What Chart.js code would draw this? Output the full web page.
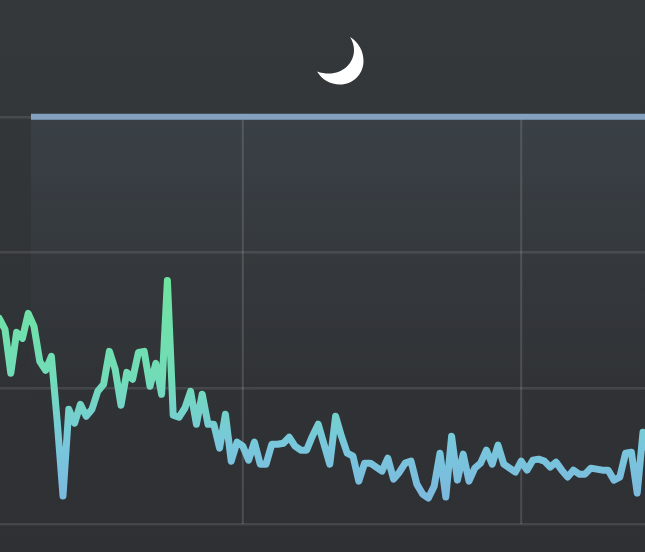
<!DOCTYPE html>
<html><head><meta charset="utf-8">
<style>html,body{margin:0;padding:0;background:#2e3033}#w{position:relative;width:645px;height:552px;background:linear-gradient(#34383b 0%,#2e3033 100%)}canvas{display:block}</style>
<script src="https://cdn.jsdelivr.net/npm/chart.js@4"></script>
</head><body><div id="w"><canvas id="c" width="645" height="552"></canvas></div>
<script>
const seriesValues=[206,195,151,192,186,211,198,163,154,168,103,28,115,101,120,108,115,133,140,173,155,119,152,145,172,173,138,161,130,244,109,107,116,133,100,130,100,100,76,110,63,82,78,64,82,60,60,80,80,81,87,78,74,74,88,100,80,60,108,88,71,68,43,61,61,57,53,66,45,52,61,63,40,30,26,38,71,27,88,44,70,43,56,61,74,60,79,60,56,52,63,54,64,65,63,57,62,54,47,54,50,50,56,55,54,54,44,47,71,72,31,92,73];
const xCategories=seriesValues.map((_,i)=>i);
const yTicks=[0,136,272,408];
const xTicks=[42,90];
const capValue=[408,408];
const capSpan=[5.48,112];
const gridSpan=[0,408];

const vertical=xTicks.map(x=>({data:gridSpan.map(y=>({x,y})),borderColor:'rgba(255,255,255,0.14)',borderWidth:2,pointRadius:0,tension:0,fill:false,order:3}));

const chart=new Chart(document.getElementById('c'),{
  type:'line',
  data:{datasets:[
    ...vertical,
    {data:capSpan.map((x,i)=>({x,y:capValue[i]})),borderColor:'#84a2c0',borderWidth:6,pointRadius:0,tension:0,order:2,borderCapStyle:'butt',
     fill:'origin',
     backgroundColor(ctx){const a=ctx.chart.chartArea;if(!a)return'transparent';const g=ctx.chart.ctx.createLinearGradient(0,116,0,400);g.addColorStop(0,'rgba(120,145,175,0.11)');g.addColorStop(1,'rgba(120,145,175,0)');return g;}},
    {data:xCategories.map((x,i)=>({x,y:seriesValues[i]})),borderWidth:7,pointRadius:0,tension:0,order:1,fill:false,borderJoinStyle:'round',borderCapStyle:'round',
     borderColor(ctx){const g=ctx.chart.ctx.createLinearGradient(0,280,0,497);g.addColorStop(0,'#6fe3a0');g.addColorStop(0.45,'#72dcb8');g.addColorStop(0.75,'#78c8dc');g.addColorStop(1,'#7cb9de');return g;}}
  ]},
  options:{
    responsive:false,animation:false,parsing:false,normalized:true,
    layout:{padding:0},
    plugins:{legend:{display:false},tooltip:{enabled:false},title:{display:false}},
    scales:{
      x:{type:'linear',min:0.138,max:111.345,ticks:{display:false},border:{display:false},grid:{display:false,drawTicks:false}},
      y:{type:'linear',min:-28,max:525,afterBuildTicks(s){s.ticks=yTicks.map(v=>({value:v}));},
         ticks:{display:false},border:{display:false},grid:{color:'rgba(255,255,255,0.1)',lineWidth:2.5,drawTicks:false}}
    }
  },
  plugins:[{id:'moon',afterDraw(ch){const c=ch.ctx;c.save();c.fillStyle='#fff';c.beginPath();c.moveTo(350,37);
    c.bezierCurveTo(358.5,42,363.5,51,363.5,61);c.bezierCurveTo(363.5,74,353,84.5,340,84.5);c.bezierCurveTo(330,84.5,322,79.5,317,71.5);
    c.bezierCurveTo(321,73,325,73.5,329,73.5);c.bezierCurveTo(343,73.5,354,63,354,50);c.bezierCurveTo(354,45,352.5,41,350,37);c.closePath();c.fill();c.restore();}}]
});
</script></body></html>
